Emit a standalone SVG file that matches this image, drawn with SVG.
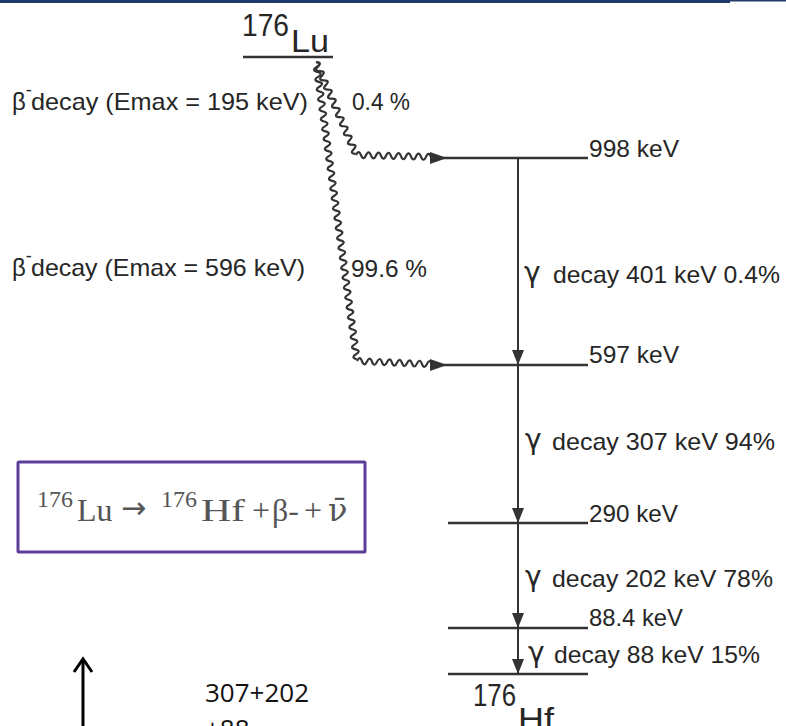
<svg xmlns="http://www.w3.org/2000/svg" width="786" height="726" viewBox="0 0 786 726">
<style>
.t{font-family:"Liberation Sans",Arial,sans-serif;fill:#262626;font-size:24px}
.big{font-family:"Liberation Sans",Arial,sans-serif;fill:#262626;font-size:32px}
.g{font-family:"DejaVu Sans","Liberation Sans",sans-serif;fill:#262626;font-size:28px}
.lvl{stroke:#333;stroke-width:2.5;fill:none}
.gl{stroke:#333;stroke-width:2;fill:none}
.wave{stroke:#333;stroke-width:2.2;fill:none}
.eq{font-family:"Liberation Serif","DejaVu Serif",serif;fill:#555;font-size:32px}
.sup{font-family:"Liberation Serif","DejaVu Serif",serif;fill:#555;font-size:24px}
.cal{font-family:"Open Sans","Liberation Sans",sans-serif;fill:#111;font-size:26px}
</style>
<defs>
<marker id="dn" markerWidth="16" markerHeight="12" refX="15" refY="6" orient="auto" markerUnits="userSpaceOnUse">
<path d="M0,0 L15,6 L0,12 Z" fill="#333"/>
</marker>
</defs>
<rect width="786" height="726" fill="#fff"/>
<g id="topbar">
<rect x="0" y="0" width="730" height="3" fill="#1d3a68"/>
<rect x="730" y="0" width="56" height="1.5" fill="#1d3a68"/>
</g>

<g id="lu176">
<text class="big" x="242" y="36" textLength="47" lengthAdjust="spacingAndGlyphs">176</text>
<text class="big" x="291" y="52" textLength="38" lengthAdjust="spacingAndGlyphs">Lu</text>
<line class="lvl" x1="243" y1="57" x2="333" y2="57"/>
</g>

<g id="level998">
<line class="lvl" x1="440" y1="158" x2="588" y2="158"/>
<text class="t" x="589" y="157" textLength="90" lengthAdjust="spacingAndGlyphs">998 keV</text>
</g>
<g id="level597">
<line class="lvl" x1="440" y1="365" x2="588" y2="365"/>
<text class="t" x="589" y="363" textLength="90" lengthAdjust="spacingAndGlyphs">597 keV</text>
</g>
<g id="level290">
<line class="lvl" x1="448" y1="523" x2="588" y2="523"/>
<text class="t" x="589" y="522" textLength="89" lengthAdjust="spacingAndGlyphs">290 keV</text>
</g>
<g id="level88">
<line class="lvl" x1="448" y1="628" x2="588" y2="628"/>
<text class="t" x="589" y="626" textLength="94" lengthAdjust="spacingAndGlyphs">88.4 keV</text>
</g>
<g id="hf176">
<line class="lvl" x1="448" y1="674" x2="588" y2="674"/>
<text class="big" x="473" y="706" textLength="43" lengthAdjust="spacingAndGlyphs">176</text>
<text class="big" x="518" y="730" textLength="36" lengthAdjust="spacingAndGlyphs">Hf</text>
</g>

<g id="labels">
<text class="t" x="12" y="110">β<tspan font-size="18" dy="-14">-</tspan><tspan x="31" dy="14" textLength="277" lengthAdjust="spacingAndGlyphs">decay (Emax = 195 keV)</tspan></text>
<text class="t" x="352" y="110" textLength="58" lengthAdjust="spacingAndGlyphs">0.4 %</text>
<text class="t" x="12" y="276">β<tspan font-size="18" dy="-14">-</tspan><tspan x="31" dy="14" textLength="274" lengthAdjust="spacingAndGlyphs">decay (Emax = 596 keV)</tspan></text>
<text class="t" x="351" y="277" textLength="76" lengthAdjust="spacingAndGlyphs">99.6 %</text>

<text class="g" x="524" y="282">γ</text>
<text class="t" x="553" y="283" textLength="227" lengthAdjust="spacingAndGlyphs">decay 401 keV  0.4%</text>
<text class="g" x="525" y="449">γ</text>
<text class="t" x="552" y="450" textLength="223" lengthAdjust="spacingAndGlyphs">decay 307 keV  94%</text>
<text class="g" x="525" y="586">γ</text>
<text class="t" x="552" y="587" textLength="221" lengthAdjust="spacingAndGlyphs">decay 202 keV  78%</text>
<text class="g" x="528" y="662">γ</text>
<text class="t" x="554" y="663" textLength="206" lengthAdjust="spacingAndGlyphs">decay 88 keV  15%</text>
</g>

<g id="connectors">
<line class="gl" x1="518" y1="158" x2="518" y2="365" marker-end="url(#dn)"/>
<line class="gl" x1="518" y1="365" x2="518" y2="523" marker-end="url(#dn)"/>
<line class="gl" x1="518" y1="523" x2="518" y2="628" marker-end="url(#dn)"/>
<line class="gl" x1="518" y1="628" x2="518" y2="674" marker-end="url(#dn)"/>

<path class="wave" transform="translate(316,62) rotate(66.6)" d="M0,0 q2.5,-6 5,0 t5,0 t5,0 t5,0 t5,0 t5,0 t5,0 t5,0 t5,0 t5,0 t5,0 t5,0 t5,0 t5,0 t5,0 t5,0 t5,0 t5,0 t5,0 t5,0"/>
<path class="wave" transform="translate(356,155) rotate(1.5)" d="M0,0 q2.5,-6 5,0 t5,0 t5,0 t5,0 t5,0 t5,0 t5,0 t5,0 t5,0 t5,0 t5,0 t5,0 t5,0 t5,0 t5,0"/>
<path d="M430,152 L447,158 L430,164 Z" fill="#333"/>

<path class="wave" transform="translate(316,62) rotate(82.2)" d="M0,0 q2.5,-6 5,0 t5,0 t5,0 t5,0 t5,0 t5,0 t5,0 t5,0 t5,0 t5,0 t5,0 t5,0 t5,0 t5,0 t5,0 t5,0 t5,0 t5,0 t5,0 t5,0 t5,0 t5,0 t5,0 t5,0 t5,0 t5,0 t5,0 t5,0 t5,0 t5,0 t5,0 t5,0 t5,0 t5,0 t5,0 t5,0 t5,0 t5,0 t5,0 t5,0 t5,0 t5,0 t5,0 t5,0 t5,0 t5,0 t5,0 t5,0 t5,0 t5,0 t5,0 t5,0 t5,0 t5,0 t5,0 t5,0 t5,0 t5,0 t5,0 t5,0"/>
<path class="wave" transform="translate(357,361) rotate(2.5)" d="M0,0 q2.5,-6 5,0 t5,0 t5,0 t5,0 t5,0 t5,0 t5,0 t5,0 t5,0 t5,0 t5,0 t5,0 t5,0 t5,0 t5,0"/>
<path d="M430,359 L447,365 L430,371 Z" fill="#333"/>
</g>

<g id="equation">
<rect x="18" y="462" width="347" height="90" fill="none" stroke="#5b3d98" stroke-width="3" rx="1"/>
<text class="sup" x="37" y="507">176</text>
<text class="eq" x="77" y="521">Lu</text>
<text x="121" y="518" font-family="DejaVu Sans,sans-serif" font-size="30" fill="#555">→</text>
<text class="sup" x="161" y="507">176</text>
<text class="eq" x="201" y="521" textLength="44" lengthAdjust="spacingAndGlyphs">Hf</text>
<text class="eq" x="252" y="521" font-size="28">+</text>
<text class="eq" x="272" y="521">β-</text>
<text class="eq" x="304" y="521" font-size="28">+</text>
<text x="328" y="521" font-family="DejaVu Serif,serif" font-size="32" fill="#555">ν̄</text>
</g>

<g id="note">
<line x1="83" y1="660" x2="83" y2="726" stroke="#000" stroke-width="3"/>
<path d="M74,672 L83,659 L92,672" fill="none" stroke="#000" stroke-width="3"/>
<text class="cal" x="205" y="702">307+202</text>
<text class="cal" x="205" y="738">+88</text>
</g>
</svg>
